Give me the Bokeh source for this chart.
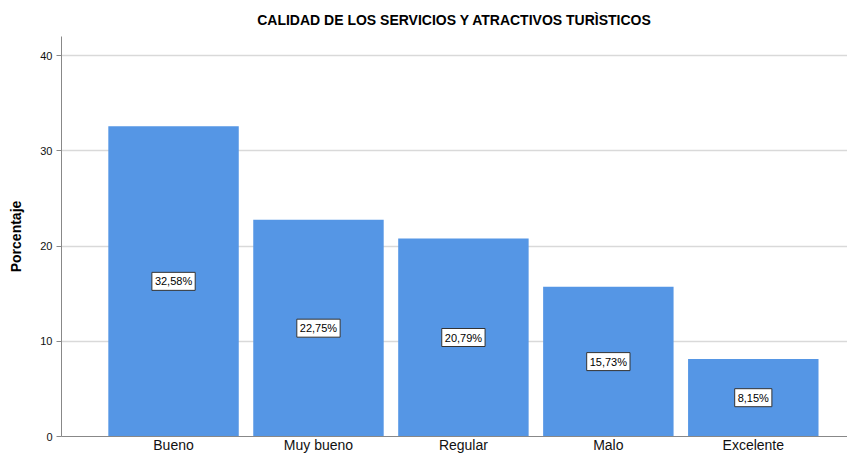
from bokeh.plotting import figure
from bokeh.models import Label, Range1d, FixedTicker
from bokeh.embed import file_html
from bokeh.resources import INLINE

categories = ["Bueno", "Muy bueno", "Regular", "Malo", "Excelente"]
values = [32.58, 22.75, 20.79, 15.73, 8.15]
y_ticks = [0, 10, 20, 30, 40]

xs = list(range(len(categories)))
labels = [("%.2f%%" % v).replace(".", ",") for v in values]

FONT = "Liberation Sans"
p = figure(width=847, height=455, output_backend="svg", toolbar_location=None,
           x_range=Range1d(-0.773, 4.65), y_range=Range1d(0, 42),
           title="CALIDAD DE LOS SERVICIOS Y ATRACTIVOS TURÌSTICOS",
           min_border_left=61, min_border_right=0, min_border_top=0, min_border_bottom=0)
p.title.align = "center"
p.title.text_font = FONT
p.title.text_font_size = "14px"
p.title.text_font_style = "bold"
p.title.text_color = "#000000"
p.title.standoff = 18
p.outline_line_color = None
p.background_fill_color = "white"
p.border_fill_color = "white"

p.vbar(x=xs, top=values, width=0.9, bottom=0,
       fill_color="#5596E5", line_color=None)

for x, v, t in zip(xs, values, labels):
    p.add_layout(Label(x=x, y=v / 2, text=t, text_align="center",
                       text_baseline="middle", text_font=FONT, text_font_size="11px",
                       text_color="black", background_fill_color="white",
                       border_line_color="#333333", border_line_width=1,
                       padding=3))

p.xaxis.ticker = FixedTicker(ticks=xs)
p.xaxis.major_label_overrides = {i: c for i, c in enumerate(categories)}
p.xaxis.major_tick_line_color = None
p.xaxis.major_tick_in = 0
p.xaxis.major_tick_out = 0
p.xaxis.minor_tick_line_color = None
p.xaxis.minor_tick_in = 0
p.xaxis.minor_tick_out = 0
p.xaxis.axis_line_color = "#888888"
p.xaxis.major_label_text_font = FONT
p.xaxis.major_label_text_font_size = "14px"
p.xaxis.major_label_text_color = "#111111"
p.xaxis.major_label_text_line_height = 1.0
p.xaxis.major_label_standoff = 0

p.yaxis.ticker = FixedTicker(ticks=y_ticks)
p.yaxis.minor_tick_line_color = None
p.yaxis.major_tick_in = 0
p.yaxis.major_tick_out = 5
p.yaxis.major_tick_line_color = "#888888"
p.yaxis.axis_line_color = "#888888"
p.yaxis.major_label_text_font = FONT
p.yaxis.major_label_text_font_size = "11px"
p.yaxis.major_label_text_color = "#111111"
p.yaxis.major_label_standoff = 4
p.yaxis.axis_label = "Porcentaje"
p.yaxis.axis_label_text_font = FONT
p.yaxis.axis_label_text_font_size = "14px"
p.yaxis.axis_label_text_font_style = "bold"
p.yaxis.axis_label_text_color = "#000000"
p.yaxis.axis_label_standoff = 13

p.xgrid.grid_line_color = None
p.ygrid.grid_line_color = "#d9d9d9"
p.ygrid.grid_line_width = 1.5

open("out.html", "w").write(file_html(p, INLINE))
